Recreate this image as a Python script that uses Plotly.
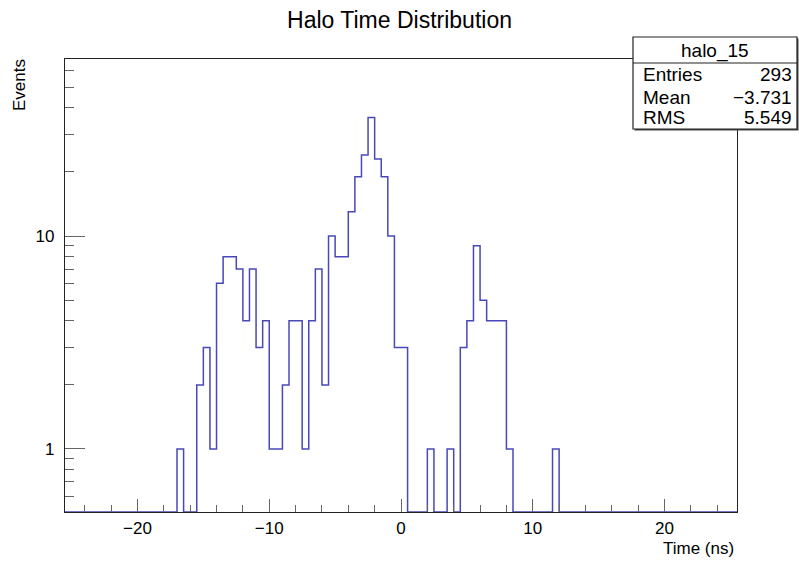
import plotly.graph_objects as go
import math

# ---- data ----
bin_width = 0.5
x_low, x_high = -25.5, 25.5
first_edge = -17.0
# counts per 0.5 ns bin starting at -17.0 ns
counts = [1, 0, 0, 2, 3, 1, 6, 8, 8, 7, 4, 7, 3, 4, 1, 1, 2, 4, 4, 1, 4, 7,
          2, 10, 8, 8, 13, 19, 24, 36, 23, 19, 10, 3, 3,
          0, 0, 0, 1, 0, 0, 1, 0, 3, 4, 9, 5, 4, 4, 4, 1,
          0, 0, 0, 0, 0, 0, 1]
x_tick_vals = [-20, -10, 0, 10, 20]
y_tick_vals = [1, 10]
y_range = [0.506, 67.8]
stats_name = "halo_15"
stats_labels = ["Entries", "Mean", "RMS"]
stats_values = ["293", "\u22123.731", "5.549"]

W, H = 799, 561
L, R, T, B = 65, 62, 59, 49
pw, ph = W - L - R, H - T - B

# build full bin list over axis range
nb = int(round((x_high - x_low) / bin_width))
start = int(round((first_edge - x_low) / bin_width))
full = [0] * nb
for i, c in enumerate(counts):
    full[start + i] = c
edges = [x_low + k * bin_width for k in range(nb + 1)]
floor = y_range[0]
ys = [c if c > 0 else floor for c in full]
xs_step = []
ys_step = []
for k in range(nb):
    xs_step += [edges[k], edges[k + 1]]
    ys_step += [ys[k], ys[k]]

fig = go.Figure()
fig.add_trace(go.Scatter(x=xs_step, y=ys_step, mode="lines",
                         line=dict(color="#4848b8", width=1.5),
                         hoverinfo="skip", showlegend=False))

FONT = "Liberation Sans, Arial, Helvetica, sans-serif"

x_minor = [v for v in range(-24, 25, 2) if v % 10 != 0]
y_minor = [m * 10 ** e for e in (-1, 0, 1) for m in range(2, 10)
           if y_range[0] <= m * 10 ** e <= y_range[1]]

fig.update_layout(
    width=W, height=H,
    margin=dict(l=L, r=R, t=T, b=B, pad=0),
    paper_bgcolor="white", plot_bgcolor="white",
    font=dict(family=FONT, color="black", size=18),
    showlegend=False,
    title=dict(text="Halo Time Distribution", x=0.5, xanchor="center",
               y=1 - 20 / H, yanchor="middle",
               font=dict(size=23, family=FONT, color="black")),
    xaxis=dict(range=[x_low, x_high], showgrid=False, zeroline=False,
               showline=True, linecolor="#222", linewidth=1.3, mirror=True,
               ticks="inside", ticklen=13, tickwidth=1.2, tickcolor="#666",
               tickvals=x_tick_vals, ticktext=[f"{v}" if v >= 0 else f"\u2212{abs(v)}" for v in x_tick_vals],
               tickfont=dict(size=17, family=FONT), ticklabelstandoff=0,
               minor=dict(tickvals=x_minor, ticks="inside", ticklen=6.5,
                          tickwidth=1.2, tickcolor="#666", showgrid=False)),
    yaxis=dict(type="log", range=[math.log10(y_range[0]), math.log10(y_range[1])],
               showgrid=False, zeroline=False,
               showline=True, linecolor="#222", linewidth=1.3, mirror=True,
               ticks="inside", ticklen=20, tickwidth=1.2, tickcolor="#666",
               tickvals=y_tick_vals, ticktext=[str(v) for v in y_tick_vals],
               tickfont=dict(size=17, family=FONT), ticklabelstandoff=6,
               minor=dict(tickvals=y_minor, ticks="inside", ticklen=9,
                          tickwidth=1.2, tickcolor="#666", showgrid=False)),
)

def px(x):
    return (x - L) / pw

def py(y):
    return (H - B - y) / ph

ann = []
ann.append(dict(text="Events", x=px(19), y=py(57), xref="paper", yref="paper",
                textangle=-90, xanchor="center", yanchor="top", showarrow=False,
                font=dict(size=17, family=FONT)))
ann.append(dict(text="Time (ns)", x=px(736), y=py(548), xref="paper", yref="paper",
                xanchor="right", yanchor="middle", showarrow=False,
                font=dict(size=17, family=FONT)))

# stats box
bx0, bx1, by0, by1, bsep = 633, 797, 37, 129, 63
shapes = [
    dict(type="rect", xref="paper", yref="paper", x0=px(bx0 + 1.5), x1=px(bx1 + 1.5),
         y0=py(by1 + 1.5), y1=py(by0 + 1.5), line=dict(width=0), fillcolor="#444", layer="above"),
    dict(type="rect", xref="paper", yref="paper", x0=px(bx0), x1=px(bx1),
         y0=py(by1), y1=py(by0), line=dict(width=1.2, color="#222"), fillcolor="white", layer="above"),
    dict(type="line", xref="paper", yref="paper", x0=px(bx0), x1=px(bx1),
         y0=py(bsep), y1=py(bsep), line=dict(width=1.2, color="#222"), layer="above"),
]
ann.append(dict(text=stats_name, x=px((bx0 + bx1) / 2), y=py(51), xref="paper", yref="paper",
                xanchor="center", yanchor="middle", showarrow=False,
                font=dict(size=19, family=FONT)))
row_y = [75, 97, 117]
for lab, val, ry in zip(stats_labels, stats_values, row_y):
    ann.append(dict(text=lab, x=px(641), y=py(ry), xref="paper", yref="paper",
                    xanchor="left", yanchor="middle", showarrow=False,
                    font=dict(size=19, family=FONT)))
    ann.append(dict(text=val, x=px(794), y=py(ry), xref="paper", yref="paper",
                    xanchor="right", yanchor="middle", showarrow=False,
                    font=dict(size=19, family=FONT)))
fig.update_layout(annotations=ann, shapes=shapes)

fig.write_html("out.html", config={"displayModeBar": False},
               post_script="document.body.style.margin='0px';document.body.style.overflow='hidden';")
